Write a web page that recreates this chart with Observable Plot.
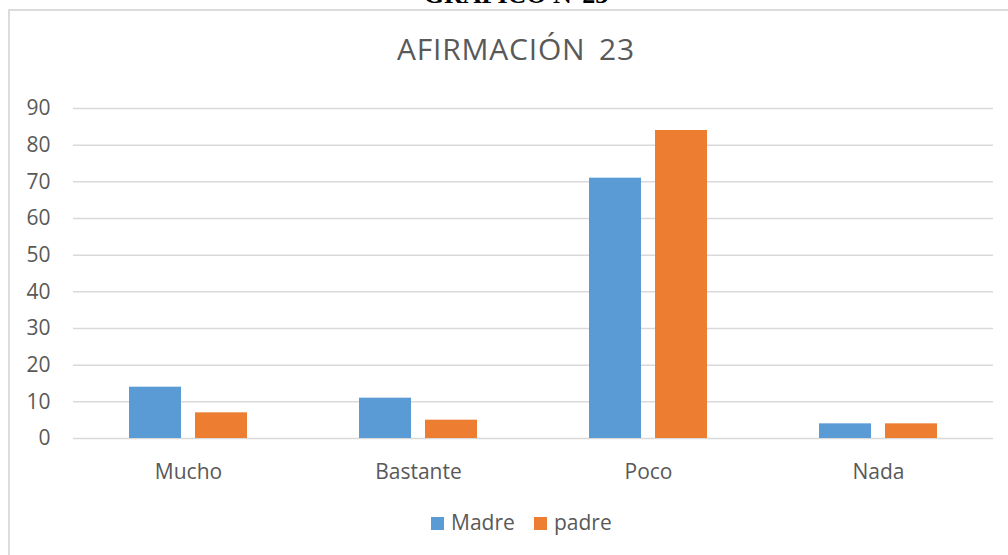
<!DOCTYPE html>
<html><head><meta charset="utf-8">
<script src="https://cdn.jsdelivr.net/npm/d3@7"></script>
<script src="https://cdn.jsdelivr.net/npm/@observablehq/plot@0.6"></script>
<style>
body{margin:0;background:#fff;}
#wrap{position:relative;width:1008px;height:555px;overflow:hidden;background:#fff;font-family:"Open Sans",sans-serif;color:#595959;}
#frame{position:absolute;left:8px;top:9px;width:1100px;height:700px;border:2px solid #dcdcdc;box-sizing:border-box;}
#top{position:absolute;left:0;width:1032px;top:-18px;text-align:center;font-family:"Liberation Serif","Times New Roman",serif;font-weight:bold;font-size:26px;line-height:1;color:#000;white-space:nowrap;}
#title{position:absolute;left:0;width:1032px;top:34px;text-align:center;font-size:30px;line-height:1;letter-spacing:0.8px;word-spacing:5px;white-space:nowrap;}
#chart{position:absolute;left:0;top:0;}
#legend{position:absolute;left:0;top:0;width:1008px;height:555px;pointer-events:none;}
.sw{position:absolute;width:13px;height:13px;top:517px;}
.lt{position:absolute;top:512px;font-size:21px;line-height:1;white-space:nowrap;}
</style></head><body>
<div id="wrap">
 <div id="frame"></div>
 <div id="top">GRÁFICO N°23</div>
 <div id="title">AFIRMACIÓN 23</div>
 <div id="chart"></div>
 <div id="legend"></div>
</div>
<script>
const categories = ["Mucho", "Bastante", "Poco", "Nada"];
const series = ["Madre", "padre"];
const madre = [14, 11, 71, 4];
const padre = [7, 5, 84, 4];
const colors = ["#5b9bd5", "#ed7d31"];
const yTicks = [0, 10, 20, 30, 40, 50, 60, 70, 80, 90];

const data = categories.flatMap((c, i) => [
  {cat: c, s: series[0], v: madre[i]},
  {cat: c, s: series[1], v: padre[i]}
]);

const plot = Plot.plot({
  width: 1008, height: 555,
  marginTop: 108, marginBottom: 117, marginLeft: 73, marginRight: 15,
  style: {fontFamily: '"Open Sans", sans-serif', fontSize: "21px", color: "#595959", background: "transparent", overflow: "visible"},
  fx: {domain: categories, padding: 0, label: null, axis: "bottom", tickSize: 0, tickPadding: 26},
  x: {domain: series, paddingInner: 0.212, paddingOuter: 0.848, axis: null},
  y: {domain: [0, 90], ticks: yTicks, tickSize: 0, tickPadding: 23, label: null},
  color: {domain: series, range: colors},
  marks: [
    Plot.ruleY(yTicks, {stroke: "#d9d9d9", strokeWidth: 1.5}),
    Plot.barY(data, {fx: "cat", x: "s", y: "v", fill: "s"})
  ]
});
document.getElementById("chart").appendChild(plot);

// legend built from the same series/colors
const leg = document.getElementById("legend");
const legPos = [[431, 451], [534, 554]];
series.forEach((s, i) => {
  const sw = document.createElement("div");
  sw.className = "sw"; sw.style.left = legPos[i][0] + "px"; sw.style.background = colors[i];
  const t = document.createElement("div");
  t.className = "lt"; t.style.left = legPos[i][1] + "px"; t.textContent = s;
  leg.appendChild(sw); leg.appendChild(t);
});
</script>
</body></html>
